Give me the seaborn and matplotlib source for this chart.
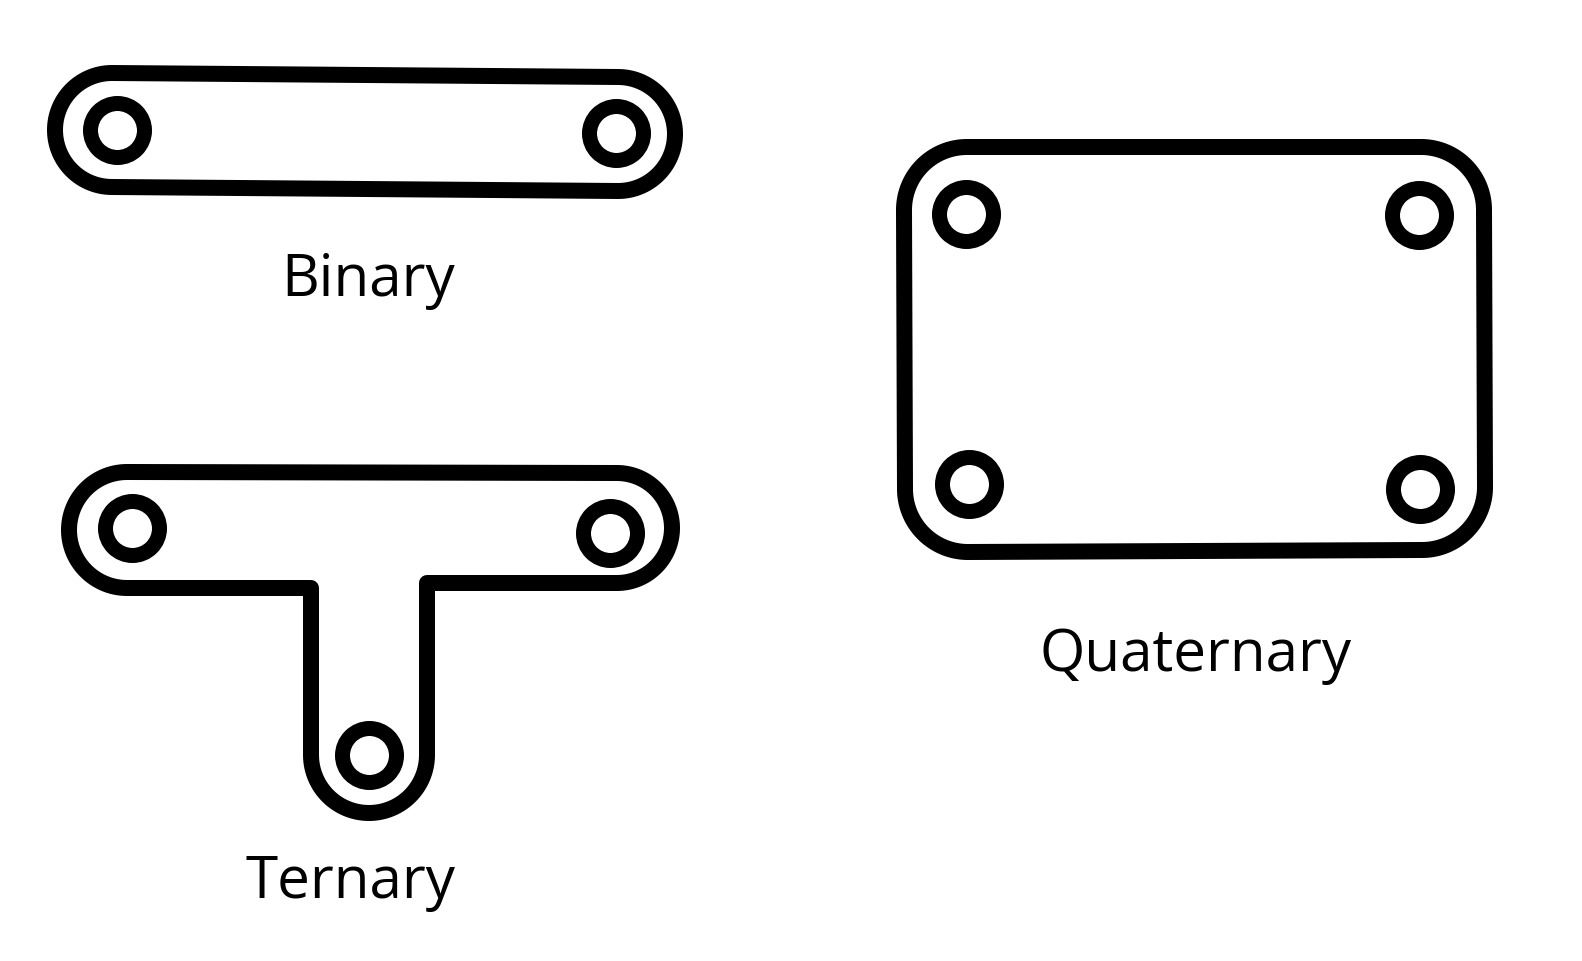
import numpy as np
import pandas as pd
import matplotlib
matplotlib.use("Agg")
import matplotlib.pyplot as plt
import seaborn as sns

# joint centres (pixel coords, y downwards)
binary_joints_x = [117, 616]
binary_joints_y = [131, 134]
ternary_joints_x = [132, 610, 369]
ternary_joints_y = [529, 534, 756]
quaternary_joints_x = [966, 1419, 969, 1420]
quaternary_joints_y = [215, 216, 485, 490]

# outlines: (centre x, centre y, radius, start angle, end angle)
binary_outline = [
    (112, 131, 57, 90, 270),
    (618, 135, 57, -90, 90),
]
ternary_outline = [
    (127, 531, 58, 90, 270),
    (617, 529, 55, -90, 90),
    (427, 584, 0, 0, 0),
    (369, 756, 58, 0, 180),
    (311, 589, 0, 0, 0),
]
quaternary_outline = [
    (967, 211, 63, 180, 270),
    (1421, 211, 63, 270, 360),
    (1422, 488, 63, 0, 90),
    (968, 490, 63, 90, 180),
]

labels = ["Binary", "Ternary", "Quaternary"]
label_x = [368, 350, 1196]
label_y = [296, 898, 671]

W, H, DPI = 1582, 962, 100
PX = 72 / DPI  # one pixel in points


def outline_points(segments):
    xs, ys = [], []
    for cx, cy, r, a0, a1 in segments:
        t = np.radians(np.linspace(a0, a1, 60))
        xs.extend(cx + r * np.cos(t))
        ys.extend(cy + r * np.sin(t))
    return xs, ys


sns.set_style("white")
fig = plt.figure(figsize=(W / DPI, H / DPI), dpi=DPI)
ax = fig.add_axes([0, 0, 1, 1])

# closed outlines, so there are no line ends
for seg in [binary_outline, ternary_outline, quaternary_outline]:
    xs, ys = outline_points(seg)
    ax.fill(xs, ys, facecolor="none", edgecolor="black",
            linewidth=16 * PX, joinstyle="round")

joints = pd.DataFrame({
    "x": binary_joints_x + ternary_joints_x + quaternary_joints_x,
    "y": binary_joints_y + ternary_joints_y + quaternary_joints_y,
})
ring_d = 54 * PX
sns.scatterplot(data=joints, x="x", y="y", ax=ax, s=ring_d ** 2,
                facecolor="white", edgecolor="black", linewidth=15 * PX,
                legend=False, zorder=3)

for txt, x, y in zip(labels, label_x, label_y):
    ax.text(x, y, txt, ha="center", va="baseline", fontsize=42,
            family=["Open Sans", "DejaVu Sans"], color="black")

ax.set_xlim(0, W)
ax.set_ylim(H, 0)
ax.set_axis_off()
fig.savefig("out.png", dpi=DPI, facecolor="white")
